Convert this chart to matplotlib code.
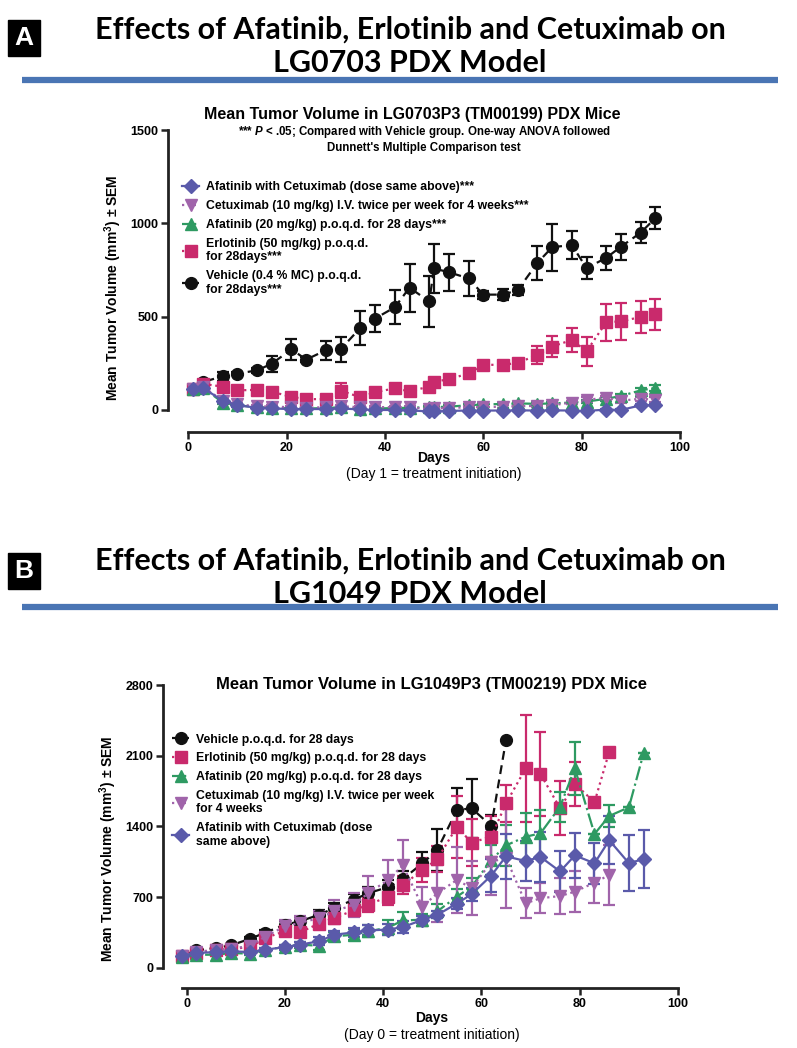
import matplotlib
matplotlib.use("Agg")
import matplotlib.pyplot as plt
from matplotlib.lines import Line2D
from matplotlib.patches import Rectangle

W, H = 797, 1048

# ---------------- Panel A: LG0703 ----------------
dias_a = [1, 3, 7, 10, 14, 17, 21, 24, 28, 31, 35, 38, 42, 45, 49, 50, 53, 57,
          60, 64, 67, 71, 74, 78, 81, 85, 88, 92, 95]

vehiculo_a = [115, 150, 180, 195, 212, 248, 325, 270, 320, 325, 440, 490, 550, 655,
              582, 758, 738, 705, 618, 618, 642, 788, 872, 884, 760, 815, 875, 950, 1028]
vehiculo_a_sem = [8, 10, 25, 10, 12, 42, 56, 12, 50, 67, 92, 72, 92, 128,
                  135, 130, 100, 94, 22, 30, 27, 90, 125, 76, 58, 64, 69, 58, 60]

erlotinib_a = [112, 140, 125, 105, 108, 98, 70, 58, 58, 104, 68, 95, 116, 100,
               125, 152, 164, 196, 242, 242, 252, 295, 340, 375, 315, 470, 475, 498, 512]
erlotinib_a_sem = [8, 10, 15, 12, 12, 12, 15, 10, 12, 40, 15, 15, 15, 12,
                   15, 15, 15, 18, 18, 18, 18, 47, 54, 64, 78, 98, 100, 85, 85]

afatinib_a = [112, 120, 40, 25, 15, 12, 8, 8, 10, 15, 5, 8, 10, 12,
              15, 15, 18, 25, 30, 32, 35, 33, 35, 40, 45, 60, 75, 105, 118]
afatinib_a_sem = [8, 10, 10, 8, 6, 6, 5, 5, 5, 8, 5, 5, 5, 5,
                  5, 5, 6, 6, 8, 8, 8, 8, 8, 10, 10, 12, 12, 15, 15]

cetuximab_a = [110, 125, 50, 30, 20, 18, 15, 12, 15, 20, 15, 15, 15, 15,
               5, 8, 10, 15, 15, 18, 20, 22, 25, 40, 55, 65, 50, 60, 55]
cetuximab_a_sem = [8, 10, 10, 8, 6, 6, 5, 5, 5, 6, 5, 5, 5, 5,
                   5, 5, 5, 6, 6, 6, 6, 8, 8, 10, 12, 12, 12, 12, 12]

combo_a = [112, 118, 50, 25, 12, 8, 5, 5, 5, 8, 3, 0, 0, -2,
           -8, -8, -5, -3, -3, -3, -2, -3, -2, -3, -5, 2, 0, 25, 28]
combo_a_sem = [8, 10, 10, 8, 5, 5, 4, 4, 4, 5, 4, 4, 4, 4,
               4, 4, 4, 4, 4, 4, 4, 4, 4, 4, 4, 4, 4, 6, 6]

# ---------------- Panel B: LG1049 ----------------
dias_b = [-1, 2, 6, 9, 13, 16, 20, 23, 27, 30, 34, 37, 41, 44, 48, 51, 55, 58,
          62, 65, 69, 72, 76, 79, 83, 86, 90, 93]

vehiculo_b = [122, 175, 198, 224, 290, 350, 428, 461, 527, 593, 675, 741, 800, 880,
              1036, 1167, 1563, 1580, 1405, 2256]
vehiculo_b_sem = [10, 15, 15, 18, 20, 30, 40, 45, 45, 50, 55, 60, 70, 80,
                  115, 204, 214, 290, 109, 0]

erlotinib_b = [122, 150, 178, 188, 207, 296, 365, 352, 440, 494, 570, 626, 706, 821,
               970, 1075, 1398, 1240, 1300, 1629, 1975, 1919, 1581, 1822, 1640, 2141]
erlotinib_b_sem = [10, 12, 15, 15, 20, 30, 40, 50, 50, 55, 60, 70, 80, 90,
                   120, 130, 305, 230, 204, 181, 528, 419, 270, 220, 0, 0]

afatinib_b = [110, 130, 132, 148, 142, 181, 207, 231, 220, 313, 329, 362, 400, 470,
              478, 560, 706, 805, 1069, 1213, 1299, 1332, 1596, 1975, 1326, 1504, 1590, 2127]
afatinib_b_sem = [8, 12, 15, 15, 15, 20, 20, 30, 40, 45, 55, 60, 70, 80,
                  60, 70, 80, 90, 150, 200, 230, 230, 150, 263, 0, 110, 0, 0]

cetuximab_b = [120, 160, 180, 190, 220, 310, 412, 445, 494, 560, 626, 741, 871, 1016,
               607, 739, 871, 790, 1050, 1090, 640, 690, 712, 755, 844, 920]
cetuximab_b_sem = [10, 15, 20, 20, 25, 40, 60, 70, 70, 110, 120, 170, 200, 250,
                   190, 280, 330, 264, 330, 500, 150, 150, 180, 200, 200, 300]

combo_b = [122, 148, 158, 165, 158, 181, 207, 231, 264, 329, 352, 372, 380, 405,
           476, 525, 638, 730, 915, 1105, 1058, 1099, 955, 1114, 1036, 1264, 1037, 1078]
combo_b_sem = [10, 12, 15, 15, 15, 20, 25, 25, 40, 40, 45, 50, 55, 55,
               35, 35, 50, 66, 165, 222, 198, 247, 205, 226, 205, 239, 280, 288]

leyenda_a = ["Afatinib with Cetuximab (dose same above)***",
             "Cetuximab (10 mg/kg) I.V. twice per week for 4 weeks***",
             "Afatinib (20 mg/kg) p.o.q.d. for 28 days***",
             "Erlotinib (50 mg/kg) p.o.q.d.\nfor 28days***",
             "Vehicle (0.4 % MC) p.o.q.d.\nfor 28days***"]
leyenda_b = ["Vehicle p.o.q.d. for 28 days",
             "Erlotinib (50 mg/kg) p.o.q.d. for 28 days",
             "Afatinib (20 mg/kg) p.o.q.d. for 28 days",
             "Cetuximab (10 mg/kg) I.V. twice per week\nfor 4 weeks",
             "Afatinib with Cetuximab (dose\nsame above)"]

NEGRO = "#111111"
ROSA = "#c92a6c"
VERDE = "#2e9a62"
MORADO = "#a064aa"
AZUL = "#5a5aaa"

estilos = {
    "vehiculo": dict(color=NEGRO, ls=(0, (4, 2.5)), marker="o", ms=8.5),
    "erlotinib": dict(color=ROSA, ls=":", marker="s", ms=8),
    "afatinib": dict(color=VERDE, ls="-.", marker="^", ms=8.5),
    "cetuximab": dict(color=MORADO, ls=":", marker="v", ms=8.5),
    "combo": dict(color=AZUL, ls="-", marker="D", ms=7.5),
}

plt.rcParams["font.family"] = ["Liberation Sans", "DejaVu Sans"]
plt.rcParams["mathtext.fontset"] = "custom"
plt.rcParams["mathtext.rm"] = "Liberation Sans:bold"
plt.rcParams["mathtext.bf"] = "Liberation Sans:bold"
plt.rcParams["mathtext.it"] = "Liberation Sans:italic:bold"

fig = plt.figure(figsize=(W / 100, H / 100), dpi=100)


def px(x, y):
    return x / W, 1 - y / H


def ejes(izq, der, arriba, abajo):
    return fig.add_axes([izq / W, 1 - abajo / H, (der - izq) / W, (abajo - arriba) / H])


def cabecera(letra, modelo, y1, y2, yline, ybox):
    fig.patches.append(Rectangle(px(8, ybox + 36), 32 / W, 36 / H,
                                 transform=fig.transFigure, color="black", zorder=3))
    fig.text(*px(24, ybox + 18), letra, color="white", fontsize=19, fontweight="bold",
             ha="center", va="center", zorder=4)
    fig.text(*px(410, y1), "Effects of Afatinib, Erlotinib and Cetuximab on",
             fontsize=22, fontweight="bold", family="Lato", ha="center", va="center")
    fig.text(*px(410, y2), modelo,
             fontsize=22, fontweight="bold", family="Lato", ha="center", va="center")
    fig.add_artist(Line2D([22 / W, 778 / W], [1 - yline / H] * 2, transform=fig.transFigure,
                          color="#4a75b4", lw=4.5, solid_capstyle="butt"))


def serie(ax, dias, vals, sem, clave, etiqueta):
    st = estilos[clave]
    cont = ax.errorbar(dias[:len(vals)], vals, yerr=sem, color=st["color"], ls=st["ls"],
                       lw=1.6, marker=st["marker"], ms=st["ms"], mec=st["color"],
                       capsize=4.5, elinewidth=1.6, capthick=1.6, label=etiqueta)
    return cont[0]


def formato(ax, ymax, yticks, xmin_spine):
    for lado in ["top", "right"]:
        ax.spines[lado].set_visible(False)
    for lado in ["left", "bottom"]:
        ax.spines[lado].set_linewidth(2)
        ax.spines[lado].set_color("#222222")
    ax.spines["left"].set_bounds(0, ymax)
    ax.spines["bottom"].set_bounds(xmin_spine, 100)
    ax.set_yticks(yticks)
    ax.set_xticks(range(0, 101, 20))
    ax.tick_params(width=1.8, length=5, labelsize=9, color="#222222", pad=2)
    for t in ax.get_xticklabels() + ax.get_yticklabels():
        t.set_fontweight("bold")


def leyenda(ax, handles, textos, ancla):
    ax.legend(handles, textos, loc="upper left", bbox_to_anchor=ancla, frameon=False,
              borderpad=0, handlelength=1.4, handletextpad=0.55, labelspacing=0.55,
              prop=dict(size=8.8, weight="bold"))


# ---------- A ----------
cabecera("A", "LG0703 PDX Model", 30, 63, 80, 20)
ax = ejes(168, 682.5, 130, 432)
ax.set_xlim(-4.1, 100.5)
ax.set_ylim(-118, 1500)
h_veh = serie(ax, dias_a, vehiculo_a, vehiculo_a_sem, "vehiculo", leyenda_a[4])
h_erl = serie(ax, dias_a, erlotinib_a, erlotinib_a_sem, "erlotinib", leyenda_a[3])
h_afa = serie(ax, dias_a, afatinib_a, afatinib_a_sem, "afatinib", leyenda_a[2])
h_cet = serie(ax, dias_a, cetuximab_a, cetuximab_a_sem, "cetuximab", leyenda_a[1])
h_com = serie(ax, dias_a, combo_a, combo_a_sem, "combo", leyenda_a[0])
formato(ax, 1500, [0, 500, 1000, 1500], 0)
leyenda(ax, [h_com, h_cet, h_afa, h_erl, h_veh], leyenda_a, (0.016, 0.85))
ax.set_ylabel("Mean Tumor Volume (mm$^3$) ± SEM", fontsize=10, fontweight="bold")
ax.yaxis.set_label_coords(-0.086, 0.477)
fig.text(*px(412, 114), "Mean Tumor Volume in LG0703P3 (TM00199) PDX Mice",
         fontsize=11.5, fontweight="bold", ha="center", va="center")
fig.text(*px(424, 132), "*** $\\it{P}$ < .05; Compared with Vehicle group. One-way ANOVA followed",
         fontsize=8.3, fontweight="bold", ha="center", va="center")
fig.text(*px(424, 148), "Dunnett's Multiple Comparison test",
         fontsize=8.3, fontweight="bold", ha="center", va="center")
fig.text(*px(434, 458), "Days", fontsize=10, fontweight="bold", ha="center", va="center")
fig.text(*px(434, 474), "(Day 1 = treatment initiation)", fontsize=10, ha="center", va="center")

# ---------- B ----------
cabecera("B", "LG1049 PDX Model", 561, 594, 607, 553)
bx = ejes(163, 680.5, 685, 988)
bx.set_xlim(-4.8, 100.5)
bx.set_ylim(-198, 2800)
g_veh = serie(bx, dias_b, vehiculo_b, vehiculo_b_sem, "vehiculo", leyenda_b[0])
g_erl = serie(bx, dias_b, erlotinib_b, erlotinib_b_sem, "erlotinib", leyenda_b[1])
g_afa = serie(bx, dias_b, afatinib_b, afatinib_b_sem, "afatinib", leyenda_b[2])
g_cet = serie(bx, dias_b, cetuximab_b, cetuximab_b_sem, "cetuximab", leyenda_b[3])
g_com = serie(bx, dias_b, combo_b, combo_b_sem, "combo", leyenda_b[4])
formato(bx, 2800, [0, 700, 1400, 2100, 2800], -1)
leyenda(bx, [g_veh, g_erl, g_afa, g_cet, g_com], leyenda_b, (0.006, 0.86))
bx.set_ylabel("Mean Tumor Volume (mm$^3$) ± SEM", fontsize=10, fontweight="bold")
bx.yaxis.set_label_coords(-0.085, 0.46)
fig.text(*px(432, 685), "Mean Tumor Volume in LG1049P3 (TM00219) PDX Mice",
         fontsize=12, fontweight="bold", ha="center", va="center")
fig.text(*px(432, 1018), "Days", fontsize=10, fontweight="bold", ha="center", va="center")
fig.text(*px(432, 1035), "(Day 0 = treatment initiation)", fontsize=10, ha="center", va="center")

fig.savefig("out.png", dpi=100)
